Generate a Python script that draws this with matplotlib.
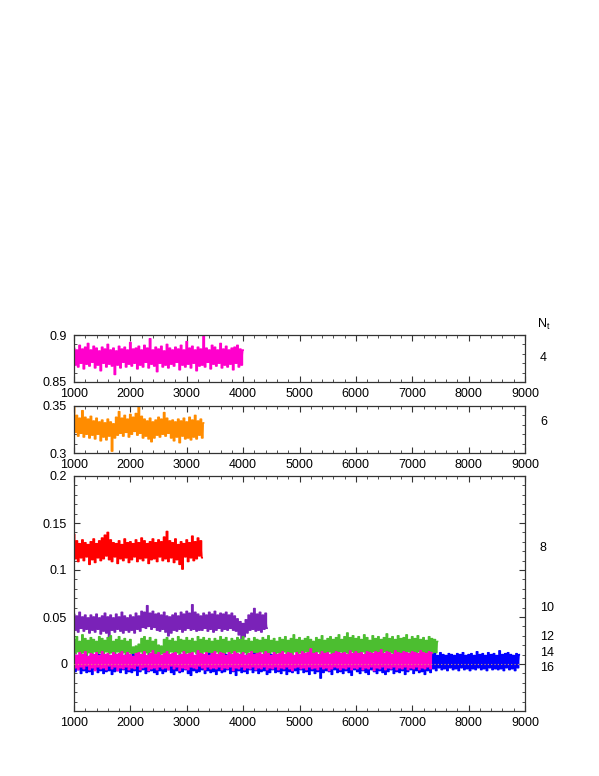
import numpy as np
import matplotlib
matplotlib.use("Agg")
import matplotlib.pyplot as plt
from matplotlib.ticker import MultipleLocator, FuncFormatter

plt.rcParams['font.family'] = ['Liberation Sans', 'DejaVu Sans']

# ---------------- data ----------------
nt_labels = ["4", "6", "8", "10", "12", "14", "16"]
x_start = 1000
nt4_stop, nt6_stop, nt8_stop = 4000, 3300, 3275
nt10_stop, nt12_stop, nt14_stop, nt16_stop = 4425, 7450, 7350, 8900

nt4 = [0.886, 0.868, 0.884, 0.866, 0.889, 0.870, 0.885, 0.864, 0.887, 0.869,
       0.891, 0.867, 0.884, 0.871, 0.888, 0.865, 0.886, 0.868, 0.883, 0.862,
       0.887, 0.870, 0.885, 0.866, 0.890, 0.869, 0.884, 0.867, 0.886, 0.858,
       0.883, 0.868, 0.888, 0.865, 0.885, 0.871, 0.887, 0.866, 0.884, 0.869,
       0.892, 0.867, 0.885, 0.870, 0.886, 0.864, 0.888, 0.868, 0.884, 0.866,
       0.889, 0.871, 0.886, 0.865, 0.896, 0.869, 0.884, 0.867, 0.887, 0.861,
       0.885, 0.870, 0.888, 0.866, 0.883, 0.868, 0.890, 0.865, 0.886, 0.869,
       0.884, 0.867, 0.887, 0.871, 0.885, 0.863, 0.889, 0.868, 0.884, 0.866,
       0.893, 0.869, 0.886, 0.865, 0.888, 0.870, 0.884, 0.862, 0.887, 0.867,
       0.885, 0.868, 0.899, 0.866, 0.886, 0.871, 0.884, 0.864, 0.889, 0.869,
       0.887, 0.867, 0.884, 0.870, 0.891, 0.865, 0.885, 0.868, 0.888, 0.866,
       0.884, 0.869, 0.886, 0.863, 0.887, 0.870, 0.889, 0.866, 0.885, 0.868,
       0.884]

nt6 = [0.350, 0.322, 0.340, 0.318, 0.337, 0.321, 0.345, 0.317, 0.338, 0.320,
       0.336, 0.316, 0.339, 0.319, 0.334, 0.315, 0.337, 0.320, 0.333, 0.313,
       0.335, 0.317, 0.332, 0.314, 0.336, 0.318, 0.333, 0.302, 0.331, 0.316,
       0.338, 0.319, 0.344, 0.321, 0.337, 0.318, 0.340, 0.322, 0.336, 0.317,
       0.341, 0.320, 0.338, 0.323, 0.342, 0.319, 0.350, 0.321, 0.339, 0.316,
       0.336, 0.318, 0.334, 0.315, 0.337, 0.312, 0.333, 0.316, 0.335, 0.319,
       0.338, 0.317, 0.336, 0.320, 0.343, 0.318, 0.337, 0.321, 0.334, 0.316,
       0.335, 0.313, 0.333, 0.317, 0.336, 0.311, 0.334, 0.318, 0.337, 0.315,
       0.333, 0.316, 0.338, 0.314, 0.335, 0.317, 0.340, 0.315, 0.334, 0.319,
       0.336, 0.316, 0.332]

nt8 = [0.138, 0.112, 0.131, 0.109, 0.128, 0.113, 0.132, 0.110, 0.129, 0.114,
       0.127, 0.106, 0.130, 0.111, 0.133, 0.108, 0.128, 0.113, 0.131, 0.110,
       0.134, 0.112, 0.137, 0.115, 0.140, 0.111, 0.132, 0.109, 0.129, 0.114,
       0.128, 0.107, 0.131, 0.112, 0.127, 0.110, 0.133, 0.113, 0.129, 0.108,
       0.130, 0.111, 0.128, 0.114, 0.132, 0.109, 0.129, 0.112, 0.134, 0.110,
       0.131, 0.113, 0.128, 0.107, 0.130, 0.111, 0.133, 0.112, 0.129, 0.109,
       0.132, 0.114, 0.130, 0.110, 0.135, 0.112, 0.141, 0.109, 0.131, 0.113,
       0.129, 0.108, 0.133, 0.111, 0.127, 0.106, 0.130, 0.101, 0.128, 0.114,
       0.132, 0.109, 0.129, 0.113, 0.136, 0.110, 0.130, 0.112, 0.134, 0.115,
       0.131, 0.113]

nt10 = [0.053, 0.036, 0.051, 0.034, 0.055, 0.038, 0.050, 0.035, 0.052, 0.037,
        0.049, 0.033, 0.052, 0.036, 0.050, 0.034, 0.053, 0.037, 0.049, 0.032,
        0.051, 0.035, 0.054, 0.033, 0.050, 0.028, 0.052, 0.036, 0.049, 0.034,
        0.053, 0.037, 0.050, 0.035, 0.055, 0.033, 0.051, 0.036, 0.049, 0.034,
        0.052, 0.036, 0.050, 0.033, 0.054, 0.037, 0.051, 0.035, 0.056, 0.039,
        0.055, 0.038, 0.062, 0.040, 0.054, 0.037, 0.056, 0.039, 0.053, 0.036,
        0.054, 0.035, 0.052, 0.037, 0.055, 0.034, 0.051, 0.030, 0.050, 0.033,
        0.052, 0.036, 0.054, 0.035, 0.051, 0.037, 0.055, 0.034, 0.053, 0.036,
        0.056, 0.038, 0.054, 0.036, 0.063, 0.037, 0.055, 0.035, 0.053, 0.036,
        0.051, 0.036, 0.054, 0.038, 0.052, 0.035, 0.055, 0.037, 0.053, 0.034,
        0.056, 0.036, 0.052, 0.038, 0.054, 0.035, 0.053, 0.037, 0.055, 0.036,
        0.052, 0.038, 0.054, 0.036, 0.051, 0.035, 0.048, 0.031, 0.045, 0.026,
        0.043, 0.029, 0.047, 0.033, 0.052, 0.036, 0.054, 0.037, 0.059, 0.035,
        0.053, 0.036, 0.055, 0.034, 0.052, 0.037, 0.054, 0.038]

nt12 = [0.026, 0.011, 0.029, 0.013, 0.024, 0.010, 0.031, 0.012, 0.027, 0.009,
        0.025, 0.012, 0.028, 0.010, 0.026, 0.013, 0.024, 0.011, 0.029, 0.012,
        0.027, 0.010, 0.025, 0.013, 0.028, 0.011, 0.030, 0.012, 0.024, 0.010,
        0.026, 0.013, 0.029, 0.011, 0.025, 0.012, 0.027, 0.010, 0.024, 0.012,
        0.026, 0.011, 0.018, 0.009, 0.019, 0.010, 0.021, 0.013, 0.027, 0.011,
        0.029, 0.012, 0.025, 0.010, 0.028, 0.013, 0.024, 0.011, 0.026, 0.010,
        0.020, 0.009, 0.019, 0.011, 0.026, 0.012, 0.028, 0.010, 0.025, 0.013,
        0.027, 0.011, 0.024, 0.012, 0.029, 0.010, 0.026, 0.013, 0.025, 0.011,
        0.028, 0.012, 0.025, 0.010, 0.027, 0.013, 0.024, 0.011, 0.029, 0.012,
        0.026, 0.010, 0.028, 0.013, 0.025, 0.011, 0.027, 0.012, 0.024, 0.010,
        0.027, 0.013, 0.025, 0.011, 0.029, 0.012, 0.026, 0.010, 0.028, 0.013,
        0.024, 0.011, 0.027, 0.012, 0.025, 0.010, 0.028, 0.013, 0.026, 0.011,
        0.029, 0.012, 0.025, 0.010, 0.027, 0.013, 0.024, 0.011, 0.028, 0.012,
        0.026, 0.010, 0.025, 0.013, 0.028, 0.011, 0.026, 0.012, 0.030, 0.010,
        0.025, 0.013, 0.027, 0.011, 0.024, 0.012, 0.028, 0.010, 0.026, 0.013,
        0.029, 0.011, 0.025, 0.012, 0.027, 0.010, 0.031, 0.013, 0.026, 0.011,
        0.028, 0.012, 0.025, 0.010, 0.027, 0.013, 0.029, 0.011, 0.026, 0.012,
        0.024, 0.010, 0.028, 0.013, 0.026, 0.011, 0.030, 0.012, 0.025, 0.010,
        0.027, 0.013, 0.029, 0.011, 0.026, 0.012, 0.028, 0.010, 0.031, 0.013,
        0.026, 0.011, 0.029, 0.012, 0.033, 0.010, 0.028, 0.013, 0.030, 0.011,
        0.027, 0.012, 0.029, 0.010, 0.026, 0.013, 0.031, 0.011, 0.028, 0.012,
        0.025, 0.010, 0.030, 0.013, 0.027, 0.011, 0.029, 0.012, 0.026, 0.010,
        0.028, 0.013, 0.032, 0.011, 0.027, 0.012, 0.029, 0.010, 0.026, 0.013,
        0.030, 0.011, 0.027, 0.012, 0.028, 0.010, 0.031, 0.013, 0.026, 0.011,
        0.029, 0.012, 0.027, 0.010, 0.030, 0.013, 0.026, 0.011, 0.028, 0.012,
        0.025, 0.010, 0.029, 0.013, 0.027, 0.011, 0.026, 0.012, 0.024]

nt14 = [0.011, -0.004, 0.009, -0.006, 0.012, -0.003, 0.010, -0.005, 0.013, -0.002,
        0.008, -0.006, 0.011, -0.004, 0.010, -0.007, 0.012, -0.003, 0.009, -0.005,
        0.013, -0.004, 0.010, -0.006, 0.011, -0.002, 0.009, -0.005, 0.012, -0.003,
        0.010, -0.007, 0.011, -0.004, 0.013, -0.005, 0.009, -0.003, 0.012, -0.006,
        0.010, -0.004, 0.008, -0.005, 0.011, -0.002, 0.012, -0.006, 0.010, -0.004,
        0.013, -0.003, 0.009, -0.007, 0.011, -0.005, 0.014, -0.004, 0.010, -0.006,
        0.012, -0.003, 0.009, -0.005, 0.011, -0.004, 0.013, -0.006, 0.010, -0.002,
        0.011, -0.005, 0.012, -0.003, 0.009, -0.007, 0.010, -0.004, 0.013, -0.005,
        0.010, -0.006, 0.011, -0.003, 0.012, -0.004, 0.009, -0.005, 0.014, -0.002,
        0.011, -0.004, 0.010, -0.006, 0.012, -0.003, 0.009, -0.005, 0.011, -0.004,
        0.013, -0.005, 0.010, -0.003, 0.012, -0.006, 0.011, -0.004, 0.009, -0.005,
        0.012, -0.003, 0.010, -0.007, 0.013, -0.004, 0.011, -0.005, 0.010, -0.003,
        0.012, -0.006, 0.009, -0.004, 0.011, -0.005, 0.013, -0.003, 0.010, -0.006,
        0.011, -0.004, 0.012, -0.005, 0.010, -0.003, 0.013, -0.006, 0.011, -0.004,
        0.009, -0.005, 0.012, -0.003, 0.010, -0.006, 0.011, -0.004, 0.013, -0.005,
        0.010, -0.003, 0.012, -0.005, 0.011, -0.007, 0.009, -0.004, 0.012, -0.003,
        0.010, -0.005, 0.013, -0.004, 0.011, -0.006, 0.012, -0.003, 0.016, -0.005,
        0.011, -0.004, 0.012, -0.006, 0.010, -0.003, 0.013, -0.005, 0.011, -0.004,
        0.012, -0.007, 0.010, -0.005, 0.011, -0.003, 0.013, -0.004, 0.012, -0.006,
        0.011, -0.004, 0.012, -0.005, 0.010, -0.003, 0.014, -0.006, 0.011, -0.004,
        0.013, -0.005, 0.011, -0.003, 0.012, -0.006, 0.010, -0.004, 0.013, -0.005,
        0.012, -0.003, 0.011, -0.007, 0.013, -0.004, 0.012, -0.005, 0.015, -0.003,
        0.011, -0.006, 0.013, -0.004, 0.012, -0.005, 0.010, -0.003, 0.014, -0.006,
        0.012, -0.004, 0.011, -0.005, 0.013, -0.003, 0.012, -0.006, 0.011, -0.004,
        0.013, -0.005, 0.012, -0.003, 0.011, -0.006, 0.014, -0.004, 0.012, -0.005,
        0.011, -0.003, 0.013, -0.005, 0.012]

nt16 = [0.007, -0.008, 0.009, -0.006, 0.006, -0.010, 0.008, -0.007, 0.010, -0.009,
        0.006, -0.008, 0.009, -0.011, 0.007, -0.006, 0.008, -0.009, 0.010, -0.007,
        0.007, -0.010, 0.006, -0.008, 0.009, -0.007, 0.008, -0.011, 0.006, -0.008,
        0.010, -0.007, 0.007, -0.009, 0.008, -0.006, 0.009, -0.010, 0.007, -0.008,
        0.006, -0.009, 0.010, -0.007, 0.008, -0.012, 0.007, -0.008, 0.009, -0.006,
        0.008, -0.010, 0.006, -0.008, 0.011, -0.007, 0.007, -0.009, 0.008, -0.011,
        0.009, -0.007, 0.006, -0.010, 0.008, -0.008, 0.010, -0.006, 0.007, -0.009,
        0.008, -0.011, 0.009, -0.007, 0.006, -0.009, 0.010, -0.008, 0.007, -0.006,
        0.009, -0.010, 0.007, -0.012, 0.008, -0.007, 0.006, -0.009, 0.010, -0.008,
        0.007, -0.006, 0.009, -0.010, 0.008, -0.007, 0.011, -0.009, 0.006, -0.008,
        0.008, -0.011, 0.007, -0.007, 0.009, -0.009, 0.006, -0.008, 0.010, -0.006,
        0.007, -0.010, 0.008, -0.008, 0.009, -0.012, 0.007, -0.007, 0.010, -0.009,
        0.006, -0.008, 0.009, -0.010, 0.007, -0.006, 0.008, -0.009, 0.011, -0.007,
        0.008, -0.010, 0.006, -0.008, 0.009, -0.007, 0.007, -0.011, 0.008, -0.009,
        0.010, -0.006, 0.007, -0.009, 0.008, -0.008, 0.006, -0.010, 0.009, -0.007,
        0.007, -0.011, 0.010, -0.008, 0.006, -0.009, 0.008, -0.007, 0.009, -0.010,
        0.008, -0.006, 0.007, -0.009, 0.010, -0.008, 0.006, -0.011, 0.008, -0.007,
        0.009, -0.010, 0.007, -0.008, 0.008, -0.015, 0.006, -0.009, 0.010, -0.007,
        0.007, -0.008, 0.009, -0.011, 0.008, -0.006, 0.010, -0.009, 0.007, -0.008,
        0.006, -0.010, 0.008, -0.007, 0.009, -0.009, 0.007, -0.012, 0.008, -0.006,
        0.010, -0.008, 0.007, -0.010, 0.006, -0.007, 0.009, -0.009, 0.008, -0.011,
        0.007, -0.006, 0.010, -0.008, 0.008, -0.010, 0.006, -0.007, 0.009, -0.009,
        0.008, -0.011, 0.007, -0.008, 0.010, -0.006, 0.009, -0.010, 0.007, -0.008,
        0.006, -0.009, 0.008, -0.007, 0.010, -0.011, 0.007, -0.008, 0.009, -0.006,
        0.008, -0.010, 0.009, -0.007, 0.007, -0.009, 0.010, -0.008, 0.006, -0.011,
        0.008, -0.007, 0.009, -0.009, 0.010, -0.005, 0.011, -0.007, 0.009, -0.004,
        0.012, -0.006, 0.010, -0.005, 0.009, -0.007, 0.011, -0.004, 0.010, -0.006,
        0.009, -0.005, 0.011, -0.007, 0.010, -0.004, 0.012, -0.006, 0.009, -0.005,
        0.010, -0.007, 0.011, -0.005, 0.009, -0.006, 0.013, -0.004, 0.010, -0.006,
        0.011, -0.005, 0.009, -0.007, 0.012, -0.004, 0.010, -0.006, 0.011, -0.005,
        0.009, -0.006, 0.014, -0.005, 0.010, -0.007, 0.011, -0.004, 0.012, -0.006,
        0.010, -0.005, 0.009, -0.007, 0.011, -0.004, 0.010]

# ---------------- figure ----------------
W, H = 599, 776
fig = plt.figure(figsize=(W / 100, H / 100), dpi=100)

def fx(px):
    return px / W

def fy(py):
    return 1 - py / H

left, right = 74, 525
ax_top = fig.add_axes([fx(left), fy(382), fx(right - left), (382 - 335) / H])
ax_mid = fig.add_axes([fx(left), fy(453), fx(right - left), (453 - 406) / H])
ax_bot = fig.add_axes([fx(left), fy(711), fx(right - left), (711 - 476) / H])

c_mag = '#ff00cc'
c_orange = '#ff8c00'
c_red = '#ff0000'
c_purple = '#7a22b8'
c_green = '#4cbe30'
c_blue = '#0000ff'

def xs(vals, stop):
    return np.linspace(x_start, stop, len(vals))

def trace(ax, vals, stop, color):
    x = xs(vals, stop)
    # dense Monte-Carlo history: vertical strokes between successive samples
    ax.plot(x, vals, color=color, lw=1.1, drawstyle='steps-mid', snap=False)
    ax.plot(x, vals, color=color, lw=0.5, snap=False)

trace(ax_top, nt4, nt4_stop, c_mag)
trace(ax_mid, nt6, nt6_stop, c_orange)
trace(ax_bot, nt8, nt8_stop, c_red)
trace(ax_bot, nt10, nt10_stop, c_purple)
trace(ax_bot, nt12, nt12_stop, c_green)
trace(ax_bot, nt16, nt16_stop, c_blue)
trace(ax_bot, nt14, nt14_stop, c_mag)
ax_bot.hlines(0, x_start, nt16_stop, color='#e0a060', lw=0.8,
              ls=(0, (1, 2)), zorder=4)

fmt = FuncFormatter(lambda v, p: '%g' % round(v, 4))
for ax, (y0, y1) in [(ax_top, (0.85, 0.9)),
                     (ax_mid, (0.3, 0.35)),
                     (ax_bot, (-0.05, 0.2))]:
    ax.set_xlim(1000, 9000)
    ax.set_ylim(y0, y1)
    ax.xaxis.set_major_locator(MultipleLocator(1000))
    ax.xaxis.set_minor_locator(MultipleLocator(200))
    ax.yaxis.set_major_locator(MultipleLocator(0.05))
    ax.yaxis.set_minor_locator(MultipleLocator(0.01))
    ax.yaxis.set_major_formatter(fmt)
    ax.tick_params(which='both', direction='in', top=True, right=True,
                   labelsize=9, color='#333333')
    ax.tick_params(axis='x', which='major', length=4, pad=4)
    ax.tick_params(axis='y', which='major', length=4, pad=5)
    ax.tick_params(which='minor', length=2)
    for s in ax.spines.values():
        s.set_linewidth(0.9)
        s.set_color('#333333')

ax_bot.set_yticks([0, 0.05, 0.1, 0.15, 0.2])

# right-hand N_t labels
fig.text(fx(537), fy(324), r'N$_\mathregular{t}$', fontsize=9, va='center', ha='left')
label_y = [358, 422, 548, 608, 637, 653, 668]
for lab, py in zip(nt_labels, label_y):
    fig.text(fx(540), fy(py), lab, fontsize=9, va='center', ha='left')

fig.savefig('out.png', dpi=100)
